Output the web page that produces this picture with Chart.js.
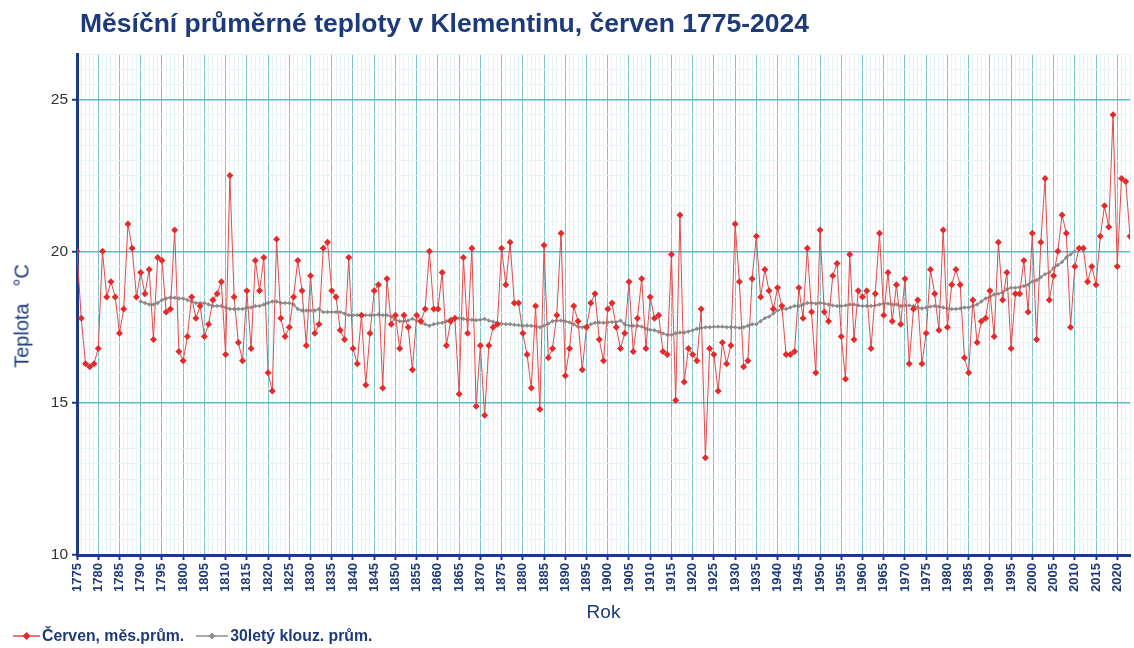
<!DOCTYPE html>
<html lang="cs">
<head>
<meta charset="UTF-8">
<title>Klementinum - červen</title>
<style>
  body { margin: 0; background: #fff; font-family: "Liberation Sans", Arial, sans-serif; }
  .obal { position: relative; width: 1134px; height: 648px; overflow: hidden; }
  .titulek { position: absolute; left: 80px; top: 8px; font-size: 26.5px; font-weight: bold; color: #1d3a7a; white-space: nowrap; }
  .osaY { position: absolute; left: 22px; top: 316px; transform: translate(-50%, -50%) rotate(-90deg); font-size: 20px; color: #1d3a7a; white-space: pre; }
  #graf { position: absolute; left: 0; top: 0; }
  .legenda { position: absolute; left: 13px; top: 627px; display: flex; align-items: center; font-size: 15.8px; font-weight: bold; color: #1d3a7a; }
  .legenda span { display: flex; align-items: center; margin-right: 12px; }
  .legenda svg { margin-right: 2px; }
</style>
<script src="https://cdn.jsdelivr.net/npm/chart.js"></script>
</head>
<body>
<div class="obal">
  <canvas id="graf" width="1134" height="648"></canvas>
  <div class="titulek">Měsíční průměrné teploty v Klementinu, červen 1775-2024</div>
  <div class="osaY">Teplota   °C</div>
  <div class="legenda">
    <span><svg width="27" height="12"><line x1="0" y1="6" x2="27" y2="6" stroke="#e04a4a" stroke-width="1.5"/><polygon points="13.5,2 17.5,6 13.5,10 9.5,6" fill="#e32b2b"/></svg>Červen, měs.prům.</span>
    <span><svg width="32" height="12"><line x1="0" y1="6" x2="32" y2="6" stroke="#8c8c8c" stroke-width="1.5"/><polygon points="16,2.5 19.5,6 16,9.5 12.5,6" fill="#8c8c8c"/></svg>30letý klouz. prům.</span>
  </div>
</div>
<script>
// cerven 1775-2024, mesicni prumer (°C)
const prvniRok = 1775;
const cerven = [
  20.0, 17.8, 16.3, 16.2, 16.3, 16.8, 20.0, 18.5, 19.0, 18.5, // 1775
  17.3, 18.1, 20.9, 20.1, 18.5, 19.3, 18.6, 19.4, 17.1, 19.8, // 1785
  19.7, 18.0, 18.1, 20.7, 16.7, 16.4, 17.2, 18.5, 17.8, 18.2, // 1795
  17.2, 17.6, 18.4, 18.6, 19.0, 16.6, 22.5, 18.5, 17.0, 16.4, // 1805
  18.7, 16.8, 19.7, 18.7, 19.8, 16.0, 15.4, 20.4, 17.8, 17.2, // 1815
  17.5, 18.5, 19.7, 18.7, 16.9, 19.2, 17.3, 17.6, 20.1, 20.3, // 1825
  18.7, 18.5, 17.4, 17.1, 19.8, 16.8, 16.3, 17.9, 15.6, 17.3, // 1835
  18.7, 18.9, 15.5, 19.1, 17.6, 17.9, 16.8, 17.9, 17.5, 16.1, // 1845
  17.9, 17.7, 18.1, 20.0, 18.1, 18.1, 19.3, 16.9, 17.7, 17.8, // 1855
  15.3, 19.8, 17.3, 20.1, 14.9, 16.9, 14.6, 16.9, 17.5, 17.6, // 1865
  20.1, 18.9, 20.3, 18.3, 18.3, 17.3, 16.6, 15.5, 18.2, 14.8, // 1875
  20.2, 16.5, 16.8, 17.9, 20.6, 15.9, 16.8, 18.2, 17.7, 16.1, // 1885
  17.5, 18.3, 18.6, 17.1, 16.4, 18.1, 18.3, 17.5, 16.8, 17.3, // 1895
  19.0, 16.7, 17.8, 19.1, 16.8, 18.5, 17.8, 17.9, 16.7, 16.6, // 1905
  19.9, 15.1, 21.2, 15.7, 16.8, 16.6, 16.4, 18.1, 13.2, 16.8, // 1915
  16.6, 15.4, 17.0, 16.3, 16.9, 20.9, 19.0, 16.2, 16.4, 19.1, // 1925
  20.5, 18.5, 19.4, 18.7, 18.1, 18.8, 18.2, 16.6, 16.6, 16.7, // 1935
  18.8, 17.8, 20.1, 18.0, 16.0, 20.7, 18.0, 17.7, 19.2, 19.6, // 1945
  17.2, 15.8, 19.9, 17.1, 18.7, 18.5, 18.7, 16.8, 18.6, 20.6, // 1955
  17.9, 19.3, 17.7, 18.9, 17.6, 19.1, 16.3, 18.1, 18.4, 16.3, // 1965
  17.3, 19.4, 18.6, 17.4, 20.7, 17.5, 18.9, 19.4, 18.9, 16.5, // 1975
  16.0, 18.4, 17.0, 17.7, 17.8, 18.7, 17.2, 20.3, 18.4, 19.3, // 1985
  16.8, 18.6, 18.6, 19.7, 18.0, 20.6, 17.1, 20.3, 22.4, 18.4, // 1995
  19.2, 20.0, 21.2, 20.6, 17.5, 19.5, 20.1, 20.1, 19.0, 19.5, // 2005
  18.9, 20.5, 21.5, 20.8, 24.5, 19.5, 22.4, 22.3, 20.5, 21.0  // 2015
];

// 30lety klouzavy prumer, centrovany, 1790-2010
const prvniRokPrumeru = 1790;
const klouzavy = [
  18.35, 18.30, 18.25, 18.25, 18.30, 18.40, 18.45, 18.48, 18.47, 18.45, // 1790
  18.45, 18.40, 18.35, 18.30, 18.30, 18.30, 18.25, 18.20, 18.20, 18.20, // 1800
  18.15, 18.10, 18.10, 18.10, 18.10, 18.15, 18.15, 18.20, 18.20, 18.25, // 1810
  18.30, 18.35, 18.35, 18.30, 18.30, 18.30, 18.25, 18.10, 18.05, 18.05, // 1820
  18.05, 18.05, 18.10, 18.00, 18.00, 18.00, 18.00, 18.00, 17.95, 17.90, // 1830
  17.90, 17.90, 17.90, 17.90, 17.90, 17.90, 17.92, 17.90, 17.90, 17.85, // 1840
  17.75, 17.70, 17.70, 17.72, 17.78, 17.72, 17.65, 17.60, 17.55, 17.60, // 1850
  17.63, 17.65, 17.70, 17.78, 17.80, 17.80, 17.78, 17.75, 17.75, 17.73, // 1860
  17.75, 17.77, 17.72, 17.68, 17.65, 17.62, 17.60, 17.60, 17.58, 17.57, // 1870
  17.55, 17.56, 17.55, 17.53, 17.50, 17.55, 17.62, 17.70, 17.72, 17.72, // 1880
  17.70, 17.66, 17.60, 17.52, 17.50, 17.55, 17.60, 17.65, 17.66, 17.65, // 1890
  17.66, 17.67, 17.67, 17.72, 17.60, 17.55, 17.55, 17.55, 17.52, 17.45, // 1900
  17.42, 17.40, 17.35, 17.30, 17.25, 17.25, 17.30, 17.33, 17.33, 17.36, // 1910
  17.40, 17.45, 17.48, 17.50, 17.50, 17.52, 17.52, 17.52, 17.50, 17.50, // 1920
  17.50, 17.48, 17.50, 17.55, 17.60, 17.60, 17.70, 17.80, 17.85, 17.95, // 1930
  18.05, 18.10, 18.10, 18.15, 18.20, 18.20, 18.25, 18.30, 18.30, 18.28, // 1940
  18.30, 18.28, 18.25, 18.22, 18.20, 18.20, 18.22, 18.25, 18.25, 18.22, // 1950
  18.20, 18.20, 18.20, 18.22, 18.25, 18.28, 18.28, 18.25, 18.25, 18.20, // 1960
  18.22, 18.22, 18.20, 18.15, 18.12, 18.15, 18.18, 18.20, 18.18, 18.15, // 1970
  18.12, 18.10, 18.10, 18.12, 18.15, 18.15, 18.20, 18.25, 18.35, 18.45, // 1980
  18.50, 18.58, 18.60, 18.65, 18.75, 18.80, 18.80, 18.82, 18.86, 18.90, // 1990
  19.00, 19.05, 19.15, 19.25, 19.30, 19.45, 19.55, 19.65, 19.80, 19.90, // 2000
  20.00                                                                // 2010
];

const popiskyY = [10, 15, 20, 25];
const osaXmin = 1775;
const osaXmax = 2023;

const modra = '#1d3a7a';
const modraOsa = '#1d3a8a';
const mrizka = '#7cc3cc';
const mrizkaY = '#62b9c4';
const mrizkaJemna = '#e8f3f5';

const bodyCerven = cerven.map((t, i) => ({ x: prvniRok + i, y: t }));
const bodyPrumer = klouzavy.map((t, i) => ({ x: prvniRokPrumeru + i, y: t }));

const ctx = document.getElementById('graf').getContext('2d');
new Chart(ctx, {
  type: 'line',
  data: {
    datasets: [
      {
        label: 'Červen, měs.prům.',
        data: bodyCerven,
        borderColor: '#e04a4a',
        borderWidth: 1,
        pointStyle: 'rectRot',
        pointRadius: 3.5,
        pointBackgroundColor: '#e32b2b',
        pointBorderWidth: 0,
        order: 0
      },
      {
        label: '30letý klouz. prům.',
        data: bodyPrumer,
        borderColor: '#8c8c8c',
        borderWidth: 1.5,
        pointStyle: 'rectRot',
        pointRadius: 2.2,
        pointBackgroundColor: '#8c8c8c',
        pointBorderWidth: 0,
        order: 1
      }
    ]
  },
  options: {
    responsive: false,
    animation: false,
    layout: { padding: { top: 54, bottom: 23, left: 0, right: 0 } },
    plugins: { legend: { display: false }, tooltip: { enabled: false } },
    scales: {
      x: {
        type: 'linear',
        min: osaXmin,
        max: osaXmax,
        afterFit: function(s) { s.height = 70; s.paddingLeft = 0; s.paddingRight = 0; },
        ticks: {
          stepSize: 1,
          autoSkip: false,
          maxRotation: 90,
          minRotation: 90,
          padding: 3,
          color: modra,
          font: { family: 'Liberation Sans', size: 13, weight: 'bold' },
          callback: v => v % 5 === 0 ? String(v) : ''
        },
        grid: {
          color: c => c.tick && c.tick.value % 5 === 0 ? mrizka : mrizkaJemna,
          tickLength: 5,
          tickWidth: 2,
          tickColor: c => c.tick && c.tick.value % 5 === 0 ? modraOsa : 'rgba(0,0,0,0)'
        },
        border: { color: modraOsa, width: 3 },
        title: { display: true, text: 'Rok', color: modra, font: { family: 'Liberation Sans', size: 19 }, padding: { top: 0, bottom: 1 } }
      },
      y: {
        min: 10,
        max: 26.5,
        afterFit: function(s) { s.width = 77; s.paddingTop = 0; s.paddingBottom = 0; },
        ticks: {
          stepSize: 0.5,
          autoSkip: false,
          padding: 4,
          color: '#333',
          font: { family: 'Liberation Sans', size: 15.5 },
          callback: v => popiskyY.includes(v) ? String(v) : ''
        },
        grid: {
          color: c => c.tick && popiskyY.includes(c.tick.value) ? mrizkaY : mrizkaJemna,
          lineWidth: c => c.tick && popiskyY.includes(c.tick.value) ? 1.5 : 1,
          tickLength: 5,
          tickWidth: 2,
          tickColor: c => c.tick && popiskyY.includes(c.tick.value) ? modraOsa : 'rgba(0,0,0,0)'
        },
        border: { color: modraOsa, width: 3 },
        title: { display: false }
      }
    }
  }
});
</script>
</body>
</html>
